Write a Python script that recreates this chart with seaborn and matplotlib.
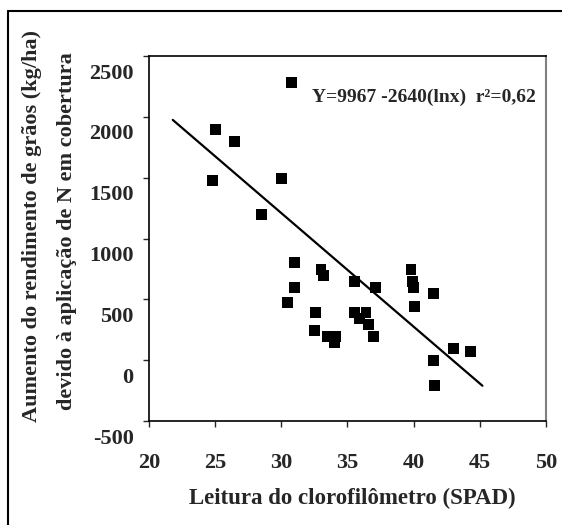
import matplotlib
matplotlib.use("Agg")
import matplotlib.pyplot as plt
import matplotlib.transforms as mtransforms
from matplotlib.lines import Line2D
import numpy as np
import pandas as pd
import seaborn as sns

# ── 数据─────────────────────────────────
spad = [30.8, 25.0, 26.5, 24.8, 30.0, 28.5, 31.0, 33.0, 33.2, 31.0, 30.5,
        32.6, 32.5, 33.5, 34.1, 34.0, 35.5, 37.1, 35.5, 36.4, 35.9, 36.6,
        37.0, 39.8, 39.9, 40.0, 40.1, 41.5, 41.5, 41.6, 43.0, 44.3]
aumento = [2280, 1895, 1795, 1475, 1495, 1195, 800, 745, 695, 595, 475,
           395, 245, 195, 195, 145, 650, 595, 395, 395, 345, 295,
           195, 745, 650, 595, 445, 545, 0, -205, 95, 70]
# linha de tendência (extremos)
trend_x = [21.8, 45.2]
trend_y = [1975, -210]

x_ticks = [20, 25, 30, 35, 40, 45, 50]
y_ticks = [-500, 0, 500, 1000, 1500, 2000, 2500]

df = pd.DataFrame({"spad": spad, "aumento": aumento})
df_trend = pd.DataFrame({"spad": trend_x, "aumento": trend_y})

sns.set_style("ticks")
plt.rcParams["font.family"] = ["Liberation Serif", "DejaVu Serif"]
plt.rcParams["font.weight"] = "bold"

fig = plt.figure(figsize=(5.62, 5.25), dpi=100)
ax = fig.add_axes([0.265, 0.198, 0.7065, 0.6953])

sns.scatterplot(data=df, x="spad", y="aumento", marker="s", s=62,
                color="black", edgecolor="none", ax=ax, zorder=3)
sns.lineplot(data=df_trend, x="spad", y="aumento", color="black",
             linewidth=1.6, ax=ax, zorder=2)

ax.set_xlim(20, 50)
ax.set_ylim(-500, 2500)
ax.set_xticks(x_ticks)
ax.set_yticks(y_ticks)
ax.set_xticklabels([str(v) for v in x_ticks], fontsize=16, fontweight="bold")
ax.set_yticklabels([str(v) for v in y_ticks], fontsize=16, fontweight="bold")
ax.tick_params(axis="x", direction="out", length=4, width=1, pad=19)
ax.tick_params(axis="y", direction="out", length=4, width=1, pad=7)

# rótulos do eixo y deslocados para baixo (como no original)
offset = mtransforms.ScaledTranslation(0, -15 / 100, fig.dpi_scale_trans)
for lab in ax.get_yticklabels():
    lab.set_transform(lab.get_transform() + offset)

for side in ["left", "bottom", "top"]:
    ax.spines[side].set_color("black")
    ax.spines[side].set_linewidth(1.2)
ax.spines["right"].set_color("#808080")
ax.spines["right"].set_linewidth(1.5)

ax.set_xlabel("")
ax.set_ylabel("")

fig.text(352 / 562, 1 - 498 / 525, "Leitura do clorofilômetro (SPAD)",
         ha="center", va="center", fontsize=16.5, fontweight="bold")
fig.text(32 / 562, 1 - 226 / 525, "Aumento do rendimento de grãos (kg/ha)",
         rotation=90, ha="center", va="center", fontsize=16, fontweight="bold")
fig.text(67 / 562, 1 - 231 / 525, "devido à aplicação de N em cobertura",
         rotation=90, ha="center", va="center", fontsize=16, fontweight="bold")

ax.text(0.975, 0.888, "Y=9967 -2640(lnx)  r²=0,62", transform=ax.transAxes,
        ha="right", va="center", fontsize=14, fontweight="bold")

# moldura externa (só esquerda e topo visíveis)
fig.add_artist(Line2D([8 / 562, 8 / 562], [0, 1 - 11 / 525],
                      transform=fig.transFigure, color="black", linewidth=1.5))
fig.add_artist(Line2D([8 / 562, 1], [1 - 11 / 525, 1 - 11 / 525],
                      transform=fig.transFigure, color="black", linewidth=1.5))

fig.savefig("out.png", dpi=100)
